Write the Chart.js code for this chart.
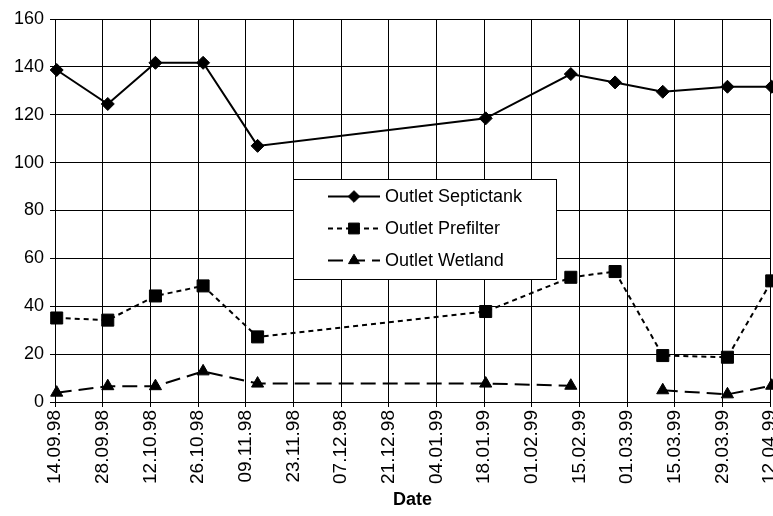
<!DOCTYPE html>
<html>
<head>
<meta charset="utf-8">
<script src="https://cdn.jsdelivr.net/npm/chart.js@4"></script>
<style>
  html, body { margin: 0; padding: 0; background: #fff; }
  #wrap { width: 773px; height: 516px; }
</style>
</head>
<body>
<div id="wrap"><canvas id="c" width="773" height="516"></canvas></div>
<script>
// ---- data ----
const startDate = '14.09.98';
const xTickLabels = ['14.09.98','28.09.98','12.10.98','26.10.98','09.11.98','23.11.98','07.12.98','21.12.98',
                     '04.01.99','18.01.99','01.02.99','15.02.99','01.03.99','15.03.99','29.03.99','12.04.99'];
const sampleDates = ['14.09.98','29.09.98','13.10.98','27.10.98','12.11.98','18.01.99','12.02.99','25.02.99','11.03.99','30.03.99','12.04.99'];
const septictank = [138.7, 124.5, 141.7, 141.7, 107.0, 118.5, 137.0, 133.5, 129.6, 131.7, 131.7];
const prefilter  = [35.1, 34.2, 44.3, 48.5, 27.2, 37.8, 52.1, 54.5, 19.4, 18.7, 50.6];
const wetland    = [3.9, 6.6, 6.6, 12.8, 7.7, 7.7, 6.8, null, 4.9, 3.2, 6.8];
const seriesNames = ['Outlet Septictank', 'Outlet Prefilter', 'Outlet Wetland'];
const yTicks = { min: 0, max: 160, step: 20 };
const xTickStepDays = 14;

// ---- helpers ----
function dayNumber(s) {
  const [d, m, y] = s.split('.').map(Number);
  const yr = y < 50 ? 2000 + y : 1900 + y;
  return Date.UTC(yr, m - 1, d) / 86400000;
}
const day0 = dayNumber(startDate);
// dates are plotted at the middle of their day (as the original spreadsheet chart does)
const xs = sampleDates.map(s => dayNumber(s) - day0 + 0.5);
const toPts = vals => vals.map((v, i) => ({ x: xs[i], y: v }));
const xMax = dayNumber(xTickLabels[xTickLabels.length - 1]) - day0;

const FONT = 'Liberation Sans, Arial, Helvetica, sans-serif';

const legendPlugin = {
  id: 'boxLegend',
  afterDatasetsDraw(chart) {
    const ctx = chart.ctx;
    const bx = 293.5, by = 179.5, bw = 263, bh = 100;
    ctx.save();
    ctx.fillStyle = '#fff';
    ctx.fillRect(bx, by, bw, bh);
    ctx.strokeStyle = '#000';
    ctx.lineWidth = 1;
    ctx.strokeRect(bx, by, bw, bh);
    chart.data.datasets.forEach((ds, i) => {
      const y = by + 17 + i * 32;
      const x1 = 328, x2 = 380, xm = (x1 + x2) / 2;
      ctx.save();
      ctx.strokeStyle = ds.borderColor;
      ctx.lineWidth = ds.borderWidth;
      ctx.setLineDash(ds.borderDash || []);
      ctx.beginPath();
      ctx.moveTo(x1, y); ctx.lineTo(x2, y);
      ctx.stroke();
      ctx.restore();
      ctx.save();
      ctx.fillStyle = ds.pointBackgroundColor;
      ctx.strokeStyle = ds.pointBorderColor;
      ctx.lineWidth = ds.pointBorderWidth;
      Chart.helpers.drawPoint(ctx, {
        pointStyle: ds.pointStyle, radius: ds.pointRadius * 0.9, borderWidth: ds.pointBorderWidth
      }, xm, y);
      ctx.restore();
      ctx.fillStyle = '#000';
      ctx.font = '18px ' + FONT;
      ctx.textBaseline = 'middle';
      ctx.textAlign = 'left';
      ctx.fillText(ds.label, 385, y + 1);
    });
    ctx.restore();
  }
};

const common = {
  borderColor: '#000',
  backgroundColor: '#000',
  pointBackgroundColor: '#000',
  pointBorderColor: '#000',
  pointBorderWidth: 1,
  borderWidth: 2,
  tension: 0,
  spanGaps: false,
  clip: false,
  fill: false
};

new Chart(document.getElementById('c'), {
  type: 'line',
  data: {
    datasets: [
      Object.assign({}, common, { label: seriesNames[0], data: toPts(septictank), pointStyle: 'rectRot', pointRadius: 6.5 }),
      Object.assign({}, common, { label: seriesNames[1], data: toPts(prefilter), pointStyle: 'rect', pointRadius: 8.5, borderDash: [5, 4] }),
      Object.assign({}, common, { label: seriesNames[2], data: toPts(wetland), pointStyle: 'triangle', pointRadius: 7, borderDash: [15, 7] })
    ]
  },
  options: {
    responsive: false,
    animation: false,
    devicePixelRatio: 1,
    layout: { autoPadding: false, padding: { top: 19, left: 0, right: 0, bottom: 0 } },
    plugins: { legend: { display: false }, tooltip: { enabled: false } },
    scales: {
      x: {
        type: 'linear',
        min: 0,
        max: xMax,
        grid: { color: '#000', lineWidth: 1, tickLength: 5, drawTicks: true },
        border: { color: '#000', width: 1 },
        ticks: {
          stepSize: xTickStepDays,
          autoSkip: false,
          minRotation: 90,
          maxRotation: 90,
          color: '#000',
          font: { family: FONT, size: 19 },
          padding: 3,
          callback: (v) => xTickLabels[Math.round(v / xTickStepDays)] || ''
        },
        title: { display: true, text: 'Date', color: '#000', font: { family: FONT, size: 18, weight: 'bold' }, padding: { top: 4, bottom: 5 } },
        afterFit: (s) => {
          s.height = 114;
          s.paddingRight = 3;
          if (s._margins) s._margins.right = 3;
        }
      },
      y: {
        min: yTicks.min,
        max: yTicks.max,
        grid: { color: '#000', lineWidth: 1, tickLength: 5 },
        border: { color: '#000', width: 1 },
        ticks: { stepSize: yTicks.step, color: '#000', font: { family: FONT, size: 18 }, padding: 6 },
        afterFit: (s) => { s.width = 55; }
      }
    }
  },
  plugins: [legendPlugin]
});
</script>
</body>
</html>
